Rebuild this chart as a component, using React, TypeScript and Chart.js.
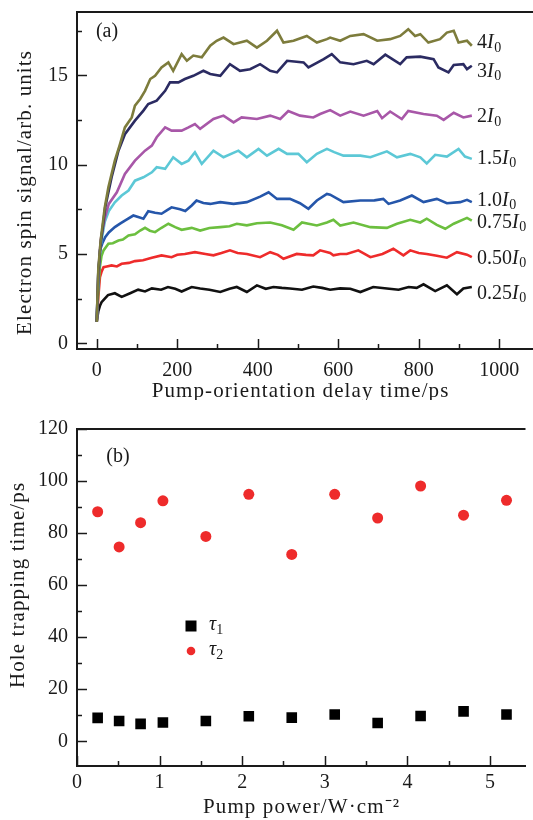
import React, { useEffect, useRef } from "react";
import { Chart, registerables } from "chart.js";

Chart.register(...registerables);

const FONT = "'Liberation Serif', 'Times New Roman', serif";
const INK = "#1a1a1a";

// ---------- Panel (a): electron spin signal vs delay ----------
const titleXA = "Pump-orientation delay time/ps";
const titleYA = "Electron spin signal/arb. units";
const labelsA = ["4", "3", "2", "1.5", "1.0", "0.75", "0.50", "0.25"];
const colorsA = ["#7d7c3c", "#2b2b62", "#a857a8", "#5cc8d6", "#2556aa", "#6cbf3f", "#ee2b2b", "#111111"];
const labelYA = [16.8, 15.2, 12.65, 10.35, 8.0, 6.75, 4.73, 2.78];

const t4 = [0, 4, 10, 20, 29, 45, 58, 70, 87, 95, 108, 120, 133, 145, 161, 178, 190, 211, 224, 240, 261, 282, 298, 315, 340, 373, 398, 423, 448, 464, 489, 522, 547, 572, 580, 605, 630, 663, 697, 729, 754, 774, 791, 804, 824, 853, 870, 887, 899, 920, 932];
const v4 = [1.2, 4.2, 5.8, 7.6, 8.73, 10.22, 11.16, 12.08, 12.64, 13.3, 13.67, 14.13, 14.79, 14.97, 15.44, 15.72, 15.25, 16.18, 15.81, 16.1, 16.0, 16.65, 16.93, 17.11, 16.74, 16.93, 16.55, 16.93, 17.49, 16.83, 16.93, 17.2, 16.83, 17.02, 17.11, 16.93, 17.2, 17.3, 16.93, 17.02, 17.2, 17.58, 17.2, 17.3, 16.83, 17.02, 17.39, 17.49, 16.83, 16.93, 16.65];

const t3 = [0, 4, 10, 21, 37, 54, 70, 95, 116, 128, 149, 170, 182, 203, 219, 240, 265, 282, 307, 331, 356, 381, 406, 431, 448, 473, 514, 526, 564, 584, 605, 638, 671, 688, 717, 754, 770, 804, 837, 849, 874, 887, 911, 920, 932];
const v3 = [1.2, 4.0, 5.6, 7.6, 9.29, 10.78, 11.7, 12.46, 13.02, 13.39, 13.58, 14.13, 14.6, 14.6, 14.79, 14.97, 15.25, 15.07, 14.97, 15.62, 15.25, 15.34, 15.62, 15.25, 15.16, 15.81, 15.72, 15.44, 15.9, 16.18, 15.72, 15.62, 15.81, 15.62, 16.15, 15.62, 16.0, 16.04, 15.9, 15.44, 15.16, 15.58, 15.62, 15.34, 15.53];

const t2 = [0, 4, 10, 20, 30, 50, 70, 95, 120, 137, 149, 170, 186, 211, 228, 244, 257, 290, 315, 340, 360, 398, 431, 456, 476, 505, 538, 555, 580, 605, 630, 663, 697, 709, 729, 758, 774, 812, 845, 862, 887, 911, 932];
const v2 = [1.2, 4.0, 5.8, 7.0, 7.8, 8.45, 9.48, 10.22, 10.78, 11.06, 11.53, 12.08, 11.9, 11.9, 12.08, 12.27, 12.0, 12.55, 12.74, 12.36, 12.64, 12.55, 12.74, 12.55, 13.0, 12.74, 12.64, 12.83, 13.05, 12.74, 12.97, 12.74, 13.0, 12.6, 12.97, 12.55, 13.0, 12.83, 12.74, 12.5, 12.9, 12.64, 12.74];

const t15 = [0, 4, 10, 20, 30, 45, 62, 79, 95, 116, 137, 149, 170, 190, 211, 228, 244, 261, 290, 315, 352, 373, 402, 423, 452, 473, 501, 522, 547, 572, 590, 613, 655, 680, 721, 746, 779, 804, 820, 841, 870, 899, 915, 932];
const v15 = [1.2, 4.0, 5.5, 6.8, 7.4, 7.89, 8.27, 8.55, 9.1, 9.29, 9.57, 9.85, 9.76, 10.41, 10.04, 10.22, 10.69, 10.04, 10.78, 10.41, 10.78, 10.41, 10.88, 10.5, 10.88, 10.6, 10.6, 10.13, 10.6, 10.88, 10.7, 10.5, 10.5, 10.41, 10.74, 10.41, 10.6, 10.41, 10.07, 10.55, 10.45, 10.88, 10.45, 10.32];

const t10 = [0, 4, 8, 14, 21, 30, 45, 58, 70, 91, 105, 116, 128, 145, 161, 175, 186, 207, 220, 236, 248, 265, 282, 307, 340, 373, 406, 427, 448, 480, 505, 526, 547, 572, 580, 613, 655, 690, 712, 725, 754, 783, 812, 845, 870, 903, 920, 932];
const v10 = [1.2, 3.5, 5.2, 5.6, 5.94, 6.2, 6.5, 6.7, 6.87, 7.15, 7.05, 6.97, 7.39, 7.3, 7.25, 7.45, 7.61, 7.5, 7.4, 7.71, 7.99, 7.85, 7.8, 7.9, 7.8, 7.9, 8.21, 8.45, 8.08, 8.08, 7.84, 7.53, 7.99, 8.36, 8.32, 7.9, 7.99, 8.0, 8.08, 7.8, 7.99, 8.27, 7.9, 8.08, 7.84, 7.9, 8.03, 7.9];

const t075 = [0, 4, 8, 12, 17, 29, 40, 54, 65, 79, 95, 108, 120, 132, 145, 160, 178, 195, 211, 236, 257, 280, 307, 330, 348, 373, 398, 431, 460, 489, 510, 547, 572, 588, 605, 638, 680, 721, 746, 779, 804, 820, 845, 866, 887, 920, 932];
const v075 = [1.2, 3.0, 4.3, 4.9, 5.2, 5.57, 5.6, 5.75, 5.8, 6.03, 6.1, 6.31, 6.46, 6.3, 6.22, 6.45, 6.69, 6.5, 6.35, 6.46, 6.31, 6.45, 6.5, 6.55, 6.69, 6.6, 6.72, 6.76, 6.6, 6.35, 6.76, 6.59, 6.76, 6.91, 6.59, 6.76, 6.5, 6.46, 6.69, 6.91, 6.76, 6.97, 6.63, 6.41, 6.69, 7.02, 6.87];

const t050 = [0, 4, 8, 12, 17, 25, 37, 50, 62, 80, 95, 115, 137, 161, 186, 200, 219, 244, 270, 290, 310, 331, 350, 373, 406, 431, 450, 464, 497, 520, 538, 555, 580, 588, 605, 621, 650, 680, 710, 737, 762, 779, 800, 820, 845, 870, 895, 920, 932];
const v050 = [1.2, 2.6, 3.7, 4.0, 4.26, 4.3, 4.36, 4.3, 4.45, 4.5, 4.6, 4.65, 4.79, 4.92, 4.82, 4.95, 5.0, 5.1, 5.0, 4.92, 5.05, 5.2, 5.05, 5.0, 4.82, 5.1, 4.95, 4.73, 5.0, 4.95, 4.92, 5.2, 5.05, 4.92, 5.0, 5.0, 5.2, 4.82, 5.0, 5.29, 4.92, 5.2, 5.05, 5.0, 4.9, 4.79, 5.1, 4.96, 4.82];

const t025 = [0, 4, 8, 12, 20, 28, 45, 62, 83, 103, 120, 137, 160, 177, 195, 211, 236, 257, 280, 307, 330, 348, 373, 398, 420, 439, 460, 480, 510, 538, 560, 580, 605, 630, 655, 687, 721, 750, 775, 795, 812, 841, 870, 895, 911, 932];
const v025 = [1.2, 1.8, 2.1, 2.3, 2.5, 2.7, 2.8, 2.6, 2.8, 3.0, 2.9, 3.07, 3.0, 3.15, 3.05, 2.9, 3.15, 3.07, 3.0, 2.87, 3.05, 3.15, 2.87, 3.24, 3.05, 3.15, 3.1, 3.07, 3.0, 3.18, 3.1, 3.0, 3.07, 3.05, 2.87, 3.15, 3.07, 3.0, 3.15, 3.1, 3.3, 2.92, 3.24, 2.74, 3.07, 3.15];

const timesA = [t4, t3, t2, t15, t10, t075, t050, t025];
const valuesA = [v4, v3, v2, v15, v10, v075, v050, v025];

const xTicksA = [0, 200, 400, 600, 800, 1000];
const xMinorA = [100, 300, 500, 700, 900];
const yTicksA = [0, 5, 10, 15];
const yMinorA = [2.5, 7.5, 12.5, 17.5];

// ---------- Panel (b): hole trapping time vs pump power ----------
const titleXB = "Pump power/W\u00b7cm\u207b\u00b2";
const titleYB = "Hole trapping time/ps";
const powerB = [0.25, 0.51, 0.77, 1.04, 1.56, 2.08, 2.6, 3.12, 3.64, 4.16, 4.68, 5.2];
const tau1 = [9.0, 7.8, 6.7, 7.2, 7.8, 9.6, 9.1, 10.3, 7.0, 9.7, 11.5, 10.3];
const tau2 = [88.2, 74.7, 84.0, 92.4, 78.7, 94.9, 71.8, 94.9, 85.8, 98.1, 86.9, 92.6];

const xTicksB = [0, 1, 2, 3, 4, 5];
const xMinorB = [0.5, 1.5, 2.5, 3.5, 4.5];
const yTicksB = [0, 20, 40, 60, 80, 100, 120];
const yMinorB = [10, 30, 50, 70, 90, 110];

function drawSpaced(ctx: any, text: string, x: number, y: number, rot: number) {
  ctx.save();
  ctx.translate(x, y);
  ctx.rotate(rot);
  ctx.font = `21px ${FONT}`;
  ctx.letterSpacing = "1.1px";
  ctx.fillStyle = INK;
  ctx.textAlign = "center";
  ctx.textBaseline = "middle";
  ctx.fillText(text, 0.55, 0);
  ctx.restore();
}

function frameTicksTitles(
  xMaj: number[], xMin: number[], yMaj: number[], yMin: number[],
  xTitle: string, yTitle: string, xTitlePos: [number, number], yTitlePos: [number, number]
) {
  return {
    id: "frameTicks",
    afterDraw(chart: any) {
      const { ctx, chartArea: a, scales } = chart;
      ctx.save();
      ctx.strokeStyle = INK;
      ctx.lineWidth = 2;
      ctx.beginPath();
      ctx.moveTo(a.left - 1, a.top);
      ctx.lineTo(a.right, a.top);
      ctx.stroke();
      ctx.lineWidth = 1.5;
      const drawX = (vals: number[], len: number) => {
        for (const v of vals) {
          const p = Math.round(scales.x.getPixelForValue(v)) + 0.5;
          ctx.beginPath();
          ctx.moveTo(p, a.bottom);
          ctx.lineTo(p, a.bottom - len);
          ctx.stroke();
        }
      };
      const drawY = (vals: number[], len: number) => {
        for (const v of vals) {
          const p = Math.round(scales.y.getPixelForValue(v)) + 0.5;
          ctx.beginPath();
          ctx.moveTo(a.left, p);
          ctx.lineTo(a.left + len, p);
          ctx.stroke();
        }
      };
      drawX(xMaj, 10);
      drawX(xMin, 5);
      drawY(yMaj, 10);
      drawY(yMin, 5);
      ctx.restore();
      drawSpaced(ctx, xTitle, xTitlePos[0], xTitlePos[1], 0);
      drawSpaced(ctx, yTitle, yTitlePos[0], yTitlePos[1], -Math.PI / 2);
    },
  };
}

function axisOpts(min: number, max: number, ticks: number[], size: { w?: number; h?: number }, tickPad: number) {
  return {
    type: "linear",
    min,
    max,
    afterBuildTicks: (s: any) => {
      s.ticks = ticks.map((v) => ({ value: v }));
    },
    afterFit: (s: any) => {
      if (size.w !== undefined) s.width = size.w;
      if (size.h !== undefined) s.height = size.h;
      s.paddingTop = 0;
      s.paddingBottom = 0;
      s.paddingLeft = 0;
      s.paddingRight = 0;
    },
    grid: { display: false, drawTicks: false },
    border: { display: true, color: INK, width: 2 },
    ticks: {
      autoSkip: false,
      maxRotation: 0,
      padding: tickPad,
      color: INK,
      font: { family: FONT, size: 20 },
      callback: (v: any) => String(v),
    },
    title: { display: false },
  };
}

function drawILabel(ctx: CanvasRenderingContext2D, x: number, y: number, prefix: string) {
  ctx.textBaseline = "middle";
  ctx.textAlign = "left";
  ctx.fillStyle = INK;
  ctx.font = `20px ${FONT}`;
  ctx.fillText(prefix, x, y);
  let w = ctx.measureText(prefix).width;
  ctx.font = `italic 20px ${FONT}`;
  ctx.fillText("I", x + w, y);
  w += ctx.measureText("I").width;
  ctx.font = `14px ${FONT}`;
  ctx.fillText("0", x + w + 0.5, y + 5);
}

export default function App() {
  const refA = useRef<HTMLCanvasElement>(null);
  const refB = useRef<HTMLCanvasElement>(null);

  useEffect(() => {
    const labelsPlugin = {
      id: "labelsA",
      afterDraw(chart: any) {
        const { ctx, scales, chartArea: a } = chart;
        ctx.save();
        labelsA.forEach((lab, i) => {
          drawILabel(ctx, scales.x.getPixelForValue(945), scales.y.getPixelForValue(labelYA[i]), lab);
        });
        ctx.font = `20px ${FONT}`;
        ctx.textAlign = "center";
        ctx.textBaseline = "middle";
        ctx.fillText("(a)", a.left + 30, a.top + 20);
        ctx.restore();
      },
    };
    const chartA = new Chart(refA.current as HTMLCanvasElement, {
      type: "line",
      data: {
        datasets: labelsA.map((lab, i) => ({
          label: lab + "I0",
          data: timesA[i].map((t, j) => ({ x: t, y: valuesA[i][j] })),
          borderColor: colorsA[i],
          backgroundColor: colorsA[i],
          borderWidth: 2.6,
          pointRadius: 0,
          tension: 0,
          fill: false,
        })),
      },
      options: {
        animation: false,
        responsive: false,
        layout: { padding: { top: 12, left: 0, right: 0, bottom: 0 } },
        plugins: { legend: { display: false }, tooltip: { enabled: false } },
        scales: {
          x: axisOpts(-49, 1084, xTicksA, { h: 51 }, 10),
          y: axisOpts(-0.32, 18.54, yTicksA, { w: 77 }, 9),
        },
      } as any,
      plugins: [
        frameTicksTitles(xTicksA, xMinorA, yTicksA, yMinorA, titleXA, titleYA, [300, 391], [25, 193]),
        labelsPlugin,
      ],
    } as any);

    const legendPlugin = {
      id: "legendB",
      afterDraw(chart: any) {
        const { ctx, chartArea: a } = chart;
        ctx.save();
        ctx.fillStyle = INK;
        ctx.font = `20px ${FONT}`;
        ctx.textAlign = "center";
        ctx.textBaseline = "middle";
        ctx.fillText("(b)", a.left + 41, a.top + 28);
        const lx = a.left + 114;
        const ly1 = a.top + 197;
        const ly2 = a.top + 222;
        ctx.fillStyle = "#000";
        ctx.fillRect(lx - 5.5, ly1 - 5.5, 11, 11);
        ctx.fillStyle = "#ee2b2b";
        ctx.beginPath();
        ctx.arc(lx, ly2, 4.3, 0, Math.PI * 2);
        ctx.fill();
        const entries = [
          ["1", ly1],
          ["2", ly2],
        ] as [string, number][];
        for (const [sub, y] of entries) {
          ctx.fillStyle = INK;
          ctx.textAlign = "left";
          ctx.font = `italic 20px ${FONT}`;
          ctx.fillText("\u03c4", lx + 18, y - 1);
          const w = ctx.measureText("\u03c4").width;
          ctx.font = `14px ${FONT}`;
          ctx.fillText(sub, lx + 18 + w, y + 4);
        }
        ctx.restore();
      },
    };
    const chartB = new Chart(refB.current as HTMLCanvasElement, {
      type: "scatter",
      data: {
        datasets: [
          {
            label: "\u03c41",
            data: powerB.map((p, i) => ({ x: p, y: tau1[i] })),
            pointStyle: "rect",
            pointRadius: 7.5,
            backgroundColor: "#000",
            borderWidth: 0,
          },
          {
            label: "\u03c42",
            data: powerB.map((p, i) => ({ x: p, y: tau2[i] })),
            pointStyle: "circle",
            pointRadius: 5.5,
            backgroundColor: "#ee2b2b",
            borderWidth: 0,
          },
        ],
      },
      options: {
        animation: false,
        responsive: false,
        layout: { padding: { top: 29, left: 0, right: 0, bottom: 0 } },
        plugins: { legend: { display: false }, tooltip: { enabled: false } },
        scales: {
          x: axisOpts(0, 5.43, xTicksB, { h: 54 }, 5),
          y: axisOpts(-9.5, 120, yTicksB, { w: 77 }, 9),
        },
      } as any,
      plugins: [
        frameTicksTitles(xTicksB, xMinorB, yTicksB, yMinorB, titleXB, titleYB, [301, 407], [18, 185.5]),
        legendPlugin,
      ],
    } as any);

    return () => {
      chartA.destroy();
      chartB.destroy();
    };
  }, []);

  return (
    <div style={{ position: "absolute", left: 0, top: 0, width: 533, height: 820, background: "#fff" }}>
      <canvas ref={refA} width={533} height={400} style={{ display: "block", width: 533, height: 400 }} />
      <canvas ref={refB} width={533} height={420} style={{ display: "block", width: 533, height: 420 }} />
    </div>
  );
}
